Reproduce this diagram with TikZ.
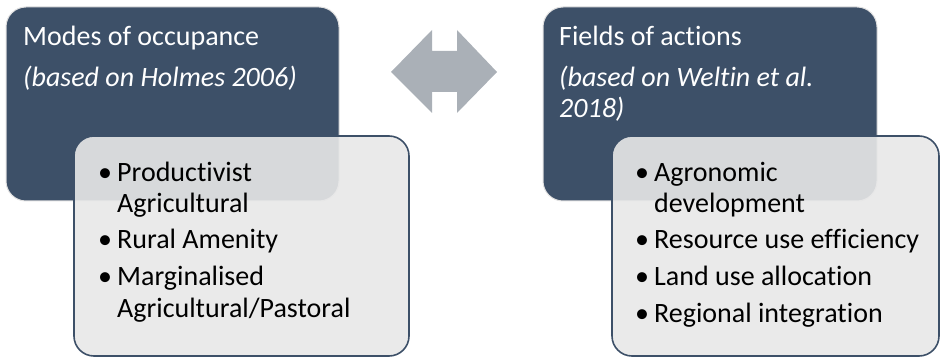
\documentclass[tikz,border=0pt]{standalone}
\usepackage{fontspec}
\setmainfont{Carlito}[RawFeature={-liga;-clig;-calt;-dlig}]
\definecolor{darkbox}{HTML}{3D5068}
\definecolor{lightbox}{HTML}{E8E8E8}
\definecolor{arrowgray}{HTML}{AAB0B7}
\begin{document}
\begin{tikzpicture}[x=1pt,y=-1pt,
  headbox/.style={fill=darkbox,draw=white!88!black,line width=1pt,rounded corners=20pt},
  listbox/.style={fill=lightbox,fill opacity=0.9,draw=darkbox,draw opacity=1,line width=1.6pt,rounded corners=20pt},
  headtxt/.style={anchor=base west,inner sep=0pt,text=white,font=\fontsize{28}{34}\selectfont},
  headit/.style={headtxt,font=\fontsize{28}{34}\selectfont\itshape},
  itemtxt/.style={anchor=base west,inner sep=0pt,text=black,font=\fontsize{28}{34}\selectfont},
  bul/.style={anchor=base west,inner sep=0pt,text=black,font=\fontsize{28}{34}\selectfont}]
\useasboundingbox (0,0) rectangle (940,358);
% left group
\draw[headbox] (6,7) rectangle (339,201);
\node[headtxt] (lt1) at (23,46) {Modes of occupance};
\node[headit] (lt2) at (23,87) {(based on Holmes 2006)};
\draw[listbox] (74,136) rectangle (409,356);
\node[bul] (lb1) at (98,182) {•};
\node[itemtxt] (li1) at (117,182) {Productivist};
\node[itemtxt] (li1b) at (117,213) {Agricultural};
\node[bul] (lb2) at (98,249) {•};
\node[itemtxt] (li2) at (117,249) {Rural Amenity};
\node[bul] (lb3) at (98,286) {•};
\node[itemtxt] (li3) at (117,286) {Marginalised};
\node[itemtxt] (li3b) at (117,317) {Agricultural/Pastoral};
% arrow
\fill[arrowgray] (391,72) -- (432,30) -- (432,51) -- (457,51) -- (457,30) -- (497,72)
  -- (457,113) -- (457,92) -- (432,92) -- (432,113) -- cycle;
% right group
\draw[headbox] (543,7) rectangle (877,201);
\node[headtxt] (rt1) at (559,46) {Fields of actions};
\node[headit] (rt2) at (559,87) {(based on Weltin et al.};
\node[headit] (rt3) at (559,118) {2018)};
\draw[listbox] (612,136) rectangle (939,356);
\node[bul] (rb1) at (635,182) {•};
\node[itemtxt] (ri1) at (654,182) {Agronomic};
\node[itemtxt] (ri1b) at (654,213) {development};
\node[bul] (rb2) at (635,249) {•};
\node[itemtxt] (ri2) at (654,249) {Resource use efficiency};
\node[bul] (rb3) at (635,286) {•};
\node[itemtxt] (ri3) at (654,286) {Land use allocation};
\node[bul] (rb4) at (635,322) {•};
\node[itemtxt] (ri4) at (654,322) {Regional integration};
\end{tikzpicture}
\end{document}
